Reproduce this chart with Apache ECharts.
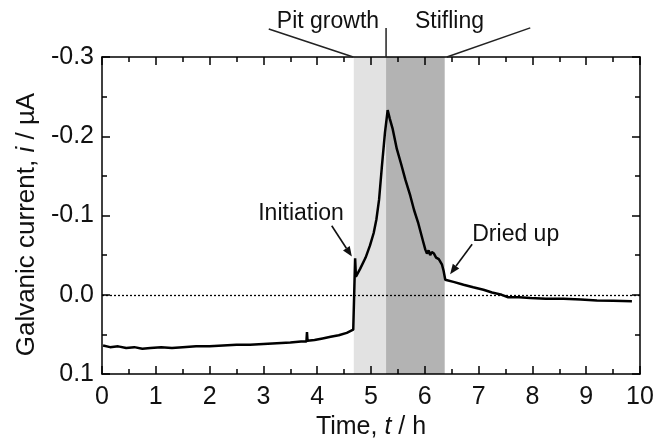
<html>
<head><meta charset="utf-8"></head>
<body style="margin:0">
<div id="chart1" style="width:660px;height:445px;"></div>
<script src="https://cdn.jsdelivr.net/npm/echarts@6/dist/echarts.min.js"></script>
<script>
  // values: time in h, current in uA (negative = up)
  let timeH = [0.02, 0.15, 0.3, 0.45, 0.6, 0.75, 0.9, 1.1, 1.3, 1.5, 1.75, 2.0, 2.25, 2.5, 2.75, 3.0, 3.25, 3.5, 3.7, 3.8,
    3.81, 3.82, 3.95, 4.1, 4.25, 4.4, 4.55, 4.67, 4.70, 4.705, 4.72, 4.80, 4.90, 4.98, 5.05, 5.10, 5.15, 5.20, 5.26, 5.31,
    5.35, 5.40, 5.48, 5.56, 5.64, 5.73, 5.80, 5.88, 5.97, 6.01, 6.04, 6.07, 6.10, 6.13, 6.17, 6.21, 6.26, 6.32, 6.35, 6.38,
    6.55, 6.72, 6.90, 7.09, 7.25, 7.43, 7.55, 7.75, 7.96, 8.25, 8.58, 8.9, 9.2, 9.5, 9.85];
  let current = [0.064, 0.066, 0.065, 0.067, 0.066, 0.068, 0.067, 0.066, 0.067, 0.066, 0.065, 0.065, 0.064, 0.063, 0.063, 0.062, 0.061, 0.060, 0.059, 0.059,
    0.047, 0.058, 0.057, 0.055, 0.053, 0.051, 0.048, 0.044, 0.043, -0.046, -0.023, -0.033, -0.047, -0.062, -0.078, -0.095, -0.120, -0.160, -0.205, -0.233,
    -0.222, -0.210, -0.184, -0.165, -0.145, -0.125, -0.107, -0.090, -0.067, -0.057, -0.052, -0.056, -0.050, -0.054, -0.052, -0.047, -0.045, -0.038, -0.030, -0.019,
    -0.016, -0.0127, -0.0095, -0.0064, -0.003, 0.0, 0.003, 0.003, 0.004, 0.005, 0.005, 0.006, 0.0073, 0.0075, 0.008];

  // shaded stages (h)
  let pitGrowth = [4.68, 5.28];
  let stifling = [5.28, 6.37];

  // annotation texts: [label, x, y] in data units, leader lines [x1,y1,x2,y2]
  let labels = [['Pit growth', 4.20, -0.3304], ['Stifling', 6.46, -0.3304], ['Initiation', 3.70, -0.0875], ['Dried up', 7.69, -0.0614]];
  let leaders = [[3.10, -0.3354, 4.67, -0.3], [5.28, -0.3367, 5.28, -0.3], [6.41, -0.3, 7.96, -0.3367]];
  let arrows = [[4.27, -0.0871, 4.644, -0.0482], [6.88, -0.0637, 6.47, -0.0261]];

  let font = '"Liberation Sans", Arial, sans-serif';
  let myChart = echarts.init(document.getElementById('chart1'));

  let seriesData = [];
  for (let i = 0; i < timeH.length; i++) {
    seriesData.push([timeH[i], current[i]]);
  }

  let tickStyle = {show: true, inside: true, length: 8, lineStyle: {color: '#000', width: 1.5}};
  let minorStyle = {show: true, splitNumber: 2, length: 5, lineStyle: {color: '#000', width: 1.5}};
  let lineStyle = {show: true, onZero: false, lineStyle: {color: '#000', width: 1.5}};

  let option = {
    animation: false,
    backgroundColor: '#fff',
    textStyle: {fontFamily: font},
    grid: {left: 102, right: 20, top: 57, bottom: 68},
    xAxis: [{
      type: 'value', min: 0, max: 10, interval: 1, z: 10,
      axisLine: lineStyle, axisTick: tickStyle, minorTick: minorStyle,
      splitLine: {show: false},
      axisLabel: {fontSize: 25, color: '#111', margin: 11, fontFamily: font},
      name: 'Time, {i|t} / h', nameLocation: 'middle', nameGap: 37,
      nameTextStyle: {fontSize: 25, color: '#111', fontFamily: font,
        rich: {i: {fontSize: 25, fontStyle: 'italic', color: '#111', fontFamily: font}}}
    }, {
      type: 'value', position: 'top', min: 0, max: 10, interval: 1, z: 10,
      axisLine: lineStyle, axisTick: tickStyle, minorTick: minorStyle,
      splitLine: {show: false}, axisLabel: {show: false}
    }],
    yAxis: [{
      type: 'value', inverse: true, min: -0.3, max: 0.1, interval: 0.1, z: 10,
      axisLine: lineStyle, axisTick: tickStyle, minorTick: minorStyle,
      splitLine: {show: false},
      axisLabel: {fontSize: 25, color: '#111', margin: 8, fontFamily: font,
        formatter: function (v) { return v.toFixed(1); }},
      name: 'Galvanic current, {i|i} / µA', nameLocation: 'middle', nameGap: 61, nameRotate: 90,
      nameTextStyle: {fontSize: 26, color: '#111', fontFamily: font, padding: [0, 18, 0, 0],
        rich: {i: {fontSize: 26, fontStyle: 'italic', color: '#111', fontFamily: font}}}
    }, {
      type: 'value', position: 'right', inverse: true, min: -0.3, max: 0.1, interval: 0.1, z: 10,
      axisLine: lineStyle, axisTick: tickStyle, minorTick: minorStyle,
      splitLine: {show: false}, axisLabel: {show: false}
    }],
    series: [{
      type: 'line',
      data: seriesData,
      showSymbol: false,
      symbol: 'none',
      lineStyle: {color: '#000', width: 2.5},
      z: 5,
      markArea: {
        silent: true,
        data: [
          [{xAxis: pitGrowth[0], itemStyle: {color: '#e2e2e2'}}, {xAxis: pitGrowth[1]}],
          [{xAxis: stifling[0], itemStyle: {color: '#b3b3b3'}}, {xAxis: stifling[1]}]
        ]
      },
      markLine: {
        silent: true,
        symbol: 'none',
        label: {show: false},
        lineStyle: {color: '#000', type: [2, 2], width: 1.3},
        data: [{yAxis: 0}]
      }
    }]
  };
  myChart.setOption(option);

  // annotations placed through the axes
  function px(x, y) {
    return myChart.convertToPixel({xAxisIndex: 0, yAxisIndex: 0}, [x, y]);
  }
  let graphics = [];
  labels.forEach(function (l) {
    let p = px(l[1], l[2]);
    graphics.push({type: 'text', x: p[0], y: p[1], z: 20,
      style: {text: l[0], fill: '#111', font: '23px ' + font, textAlign: 'center', textVerticalAlign: 'bottom'}});
  });
  leaders.forEach(function (s) {
    let a = px(s[0], s[1]), b = px(s[2], s[3]);
    graphics.push({type: 'line', z: 20, shape: {x1: a[0], y1: a[1], x2: b[0], y2: b[1]},
      style: {stroke: '#222', lineWidth: 1.5}});
  });
  arrows.forEach(function (s) {
    let a = px(s[0], s[1]), b = px(s[2], s[3]);
    let ang = Math.atan2(b[1] - a[1], b[0] - a[0]);
    let len = 10, hw = 4;
    let bx = b[0] - len * Math.cos(ang), by = b[1] - len * Math.sin(ang);
    graphics.push({type: 'line', z: 20, shape: {x1: a[0], y1: a[1], x2: bx, y2: by},
      style: {stroke: '#111', lineWidth: 1.6}});
    graphics.push({type: 'polygon', z: 20, shape: {points: [
      [b[0], b[1]],
      [bx + hw * Math.sin(ang), by - hw * Math.cos(ang)],
      [bx - hw * Math.sin(ang), by + hw * Math.cos(ang)]
    ]}, style: {fill: '#111'}});
  });
  myChart.setOption({graphic: graphics});
</script>
</body>
</html>
